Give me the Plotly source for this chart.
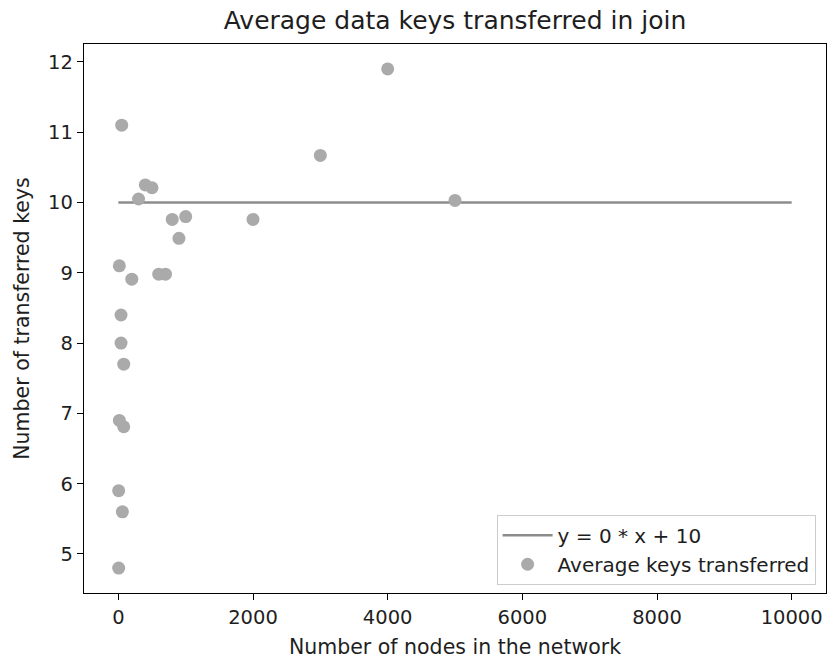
import plotly.graph_objects as go

# Network sizes and the average number of keys moved when a node joins
nodes = [5, 5, 15, 15, 40, 40, 50, 60, 80, 80,
         200, 300, 400, 500, 600, 700, 800, 900, 1000,
         2000, 3000, 4000, 5000]
avg_keys = [4.80, 5.90, 9.10, 6.90, 8.40, 8.00, 11.10, 5.60, 7.70, 6.81,
            8.91, 10.05, 10.25, 10.21, 8.98, 8.98, 9.76, 9.49, 9.80,
            9.76, 10.67, 11.90, 10.03]

# Fitted line y = slope * x + intercept
slope = 0
intercept = 10
fit_x = [0, 10000]
fit_y = [slope * x + intercept for x in fit_x]

x_ticks = [0, 2000, 4000, 6000, 8000, 10000]
x_tick_labels = ["0", "2000", "4000", "6000", "8000", "10000"]
y_ticks = [5, 6, 7, 8, 9, 10, 11, 12]

font_family = "DejaVu Sans, Arial, sans-serif"
text_color = "#1e1e1e"

fig = go.Figure()
fig.add_trace(go.Scatter(
    x=fit_x, y=fit_y, mode="lines",
    name="y = 0 * x + 10",
    line=dict(color="#8c8c8c", width=2.4),
))
fig.add_trace(go.Scatter(
    x=nodes, y=avg_keys, mode="markers",
    name="Average keys transferred",
    marker=dict(color="#aaaaaa", size=13, line=dict(width=0)),
))

axis_common = dict(
    showgrid=False, zeroline=False,
    showline=True, linecolor="black", linewidth=1.3, mirror=True,
    ticks="outside", ticklen=6, tickwidth=1.3, tickcolor="black",
    tickfont=dict(family=font_family, size=19.5, color=text_color),
)

fig.update_layout(
    width=827, height=659,
    margin=dict(l=84, r=1, t=44, b=66),
    paper_bgcolor="white", plot_bgcolor="white",
    title=dict(
        text="Average data keys transferred in join",
        x=0.5, xanchor="center", xref="paper",
        y=1 - 20 / 659, yanchor="middle",
        font=dict(family=font_family, size=25, color=text_color),
    ),
    xaxis=dict(
        range=[-510, 10510],
        tickvals=x_ticks,
        ticktext=x_tick_labels,
        title=dict(text="Number of nodes in the network", standoff=12,
                   font=dict(family=font_family, size=20.5, color=text_color)),
        **axis_common,
    ),
    yaxis=dict(
        range=[4.445, 12.255],
        tickvals=y_ticks,
        title=dict(text="Number of transferred keys", standoff=12,
                   font=dict(family=font_family, size=20.5, color=text_color)),
        **axis_common,
    ),
    legend=dict(
        x=0.986, y=0.015, xanchor="right", yanchor="bottom",
        bgcolor="rgba(255,255,255,0.8)", bordercolor="#cccccc", borderwidth=1,
        font=dict(family=font_family, size=20, color=text_color),
        itemwidth=50,
    ),
    showlegend=True,
)

fig.write_html("out.html")
